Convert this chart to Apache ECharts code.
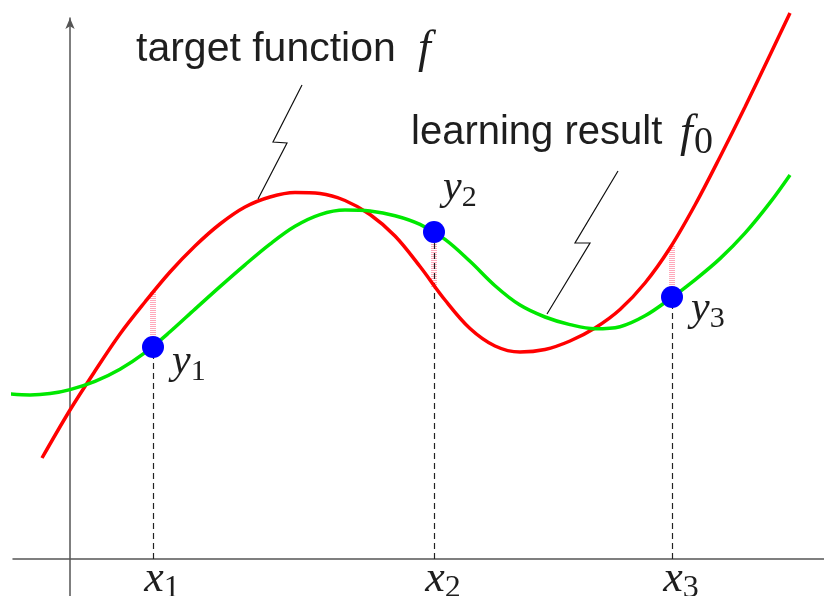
<!DOCTYPE html>
<html>
<head>
<meta charset="utf-8">
<script src="https://cdn.jsdelivr.net/npm/echarts@6/dist/echarts.min.js"></script>
<style>
  html, body { margin: 0; padding: 0; background: #fff; }
  #chart { width: 824px; height: 596px; }
</style>
</head>
<body>
<div id="chart"></div>
<script>
// Target function f (red), sampled along x
const targetX = [-0.28, 0.00, 0.25, 0.50, 0.75, 1.00, 1.25, 1.50, 1.75, 2.00, 2.25, 2.50, 2.75, 3.00, 3.25, 3.50, 3.75, 4.00, 4.25, 4.50, 4.75, 5.00, 5.25, 5.50, 5.75, 6.00, 6.25, 6.50, 6.75, 7.00, 7.20];
const targetY = [1.01, 1.49, 1.88, 2.25, 2.57, 2.87, 3.13, 3.35, 3.52, 3.62, 3.665, 3.655, 3.585, 3.445, 3.23, 2.925, 2.59, 2.305, 2.13, 2.07, 2.095, 2.18, 2.31, 2.495, 2.76, 3.11, 3.54, 4.02, 4.52, 5.04, 5.46];

// Learning result f0 (green), sampled along x
const learnedX = [-0.60, -0.40, -0.20, 0.00, 0.25, 0.50, 0.75, 1.00, 1.25, 1.50, 1.75, 2.00, 2.25, 2.50, 2.75, 3.00, 3.25, 3.50, 3.75, 4.00, 4.25, 4.50, 4.75, 5.00, 5.25, 5.50, 5.75, 6.00, 6.25, 6.50, 6.75, 7.00, 7.20];
const learnedY = [1.65, 1.64, 1.654, 1.694, 1.777, 1.898, 2.064, 2.272, 2.499, 2.724, 2.942, 3.149, 3.327, 3.444, 3.489, 3.479, 3.433, 3.346, 3.196, 2.977, 2.733, 2.539, 2.42, 2.344, 2.302, 2.323, 2.432, 2.602, 2.792, 3.004, 3.259, 3.564, 3.841];

// Training samples (x_i, y_i) and the target value above each x_i
const sampleX = [0.83, 3.64, 6.02];
const sampleY = [2.12, 3.27, 2.62];
const targetAtSample = [2.67, 2.72, 3.14];
const sampleIndex = ['1', '2', '3'];

// Callout paths (zig-zag arrows) pointing at each curve
const targetCallout = [[2.32, 4.74], [2.03, 4.17], [2.17, 4.16], [1.88, 3.60]];
const learnedCallout = [[5.48, 3.88], [5.05, 3.16], [5.20, 3.16], [4.77, 2.45]];

const zip = (xs, ys) => xs.map((x, i) => [x, ys[i]]);

const mathFont = '"Liberation Serif", "DejaVu Serif", serif';
const sansFont = '"Liberation Sans", Arial, sans-serif';
const ink = '#1e1e1e';

const subRich = (letterSize, subSize) => ({
  m: { fontFamily: mathFont, fontStyle: 'italic', fontSize: letterSize, color: ink, lineHeight: letterSize + 8 },
  s: { fontFamily: mathFont, fontSize: subSize, color: ink, lineHeight: subSize, verticalAlign: 'bottom' }
});

const chart = echarts.init(document.getElementById('chart'), null, { renderer: 'canvas' });

const option = {
  animation: false,
  backgroundColor: '#ffffff',
  grid: { left: 13, right: 0, top: 18, bottom: 0, containLabel: false, outerBoundsMode: 'none' },
  xAxis: {
    type: 'value',
    min: -0.57,
    max: 7.54,
    splitLine: { show: false },
    axisTick: { show: false },
    axisLabel: { show: false },
    axisLine: { show: true, onZero: true, lineStyle: { color: '#555', width: 1.5 } }
  },
  yAxis: {
    type: 'value',
    min: -0.37,
    max: 5.41,
    splitLine: { show: false },
    axisTick: { show: false },
    axisLabel: { show: false },
    axisLine: {
      show: true, onZero: true,
      symbol: ['none', 'arrow'], symbolSize: [7, 11],
      lineStyle: { color: '#555', width: 1.5 }
    }
  },
  graphic: [
    { type: 'text', x: 136, y: 50, z: 10,
      style: { text: 'target function', font: '41px ' + sansFont, fill: ink, verticalAlign: 'middle' } },
    { type: 'text', x: 418, y: 50, z: 10,
      style: { text: 'f', font: 'italic 46px ' + mathFont, fill: ink, verticalAlign: 'middle' } },
    { type: 'text', x: 411, y: 133, z: 10,
      style: { text: 'learning result', font: '40px ' + sansFont, fill: ink, verticalAlign: 'middle' } },
    { type: 'text', x: 680, y: 134, z: 10,
      style: { text: 'f', font: 'italic 46px ' + mathFont, fill: ink, verticalAlign: 'middle' } },
    { type: 'text', x: 694, y: 143, z: 10,
      style: { text: '0', font: '38px ' + mathFont, fill: ink, verticalAlign: 'middle' } }
  ],
  series: [
    {
      name: 'target function f',
      type: 'line',
      data: zip(targetX, targetY),
      smooth: 0.35,
      showSymbol: false,
      clip: false,
      silent: true,
      z: 3,
      lineStyle: { color: '#ff0000', width: 3.5 }
    },
    {
      name: 'learning result f0',
      type: 'line',
      data: zip(learnedX, learnedY),
      smooth: 0.35,
      showSymbol: false,
      clip: false,
      silent: true,
      z: 3,
      lineStyle: { color: '#00e800', width: 3.5 }
    },
    {
      // residual between each sample and the target
      name: 'residual',
      type: 'lines',
      coordinateSystem: 'cartesian2d',
      silent: true,
      z: 2,
      lineStyle: { color: '#ffa8ba', width: 6, type: [1, 1], opacity: 1 },
      data: sampleX.map((x, i) => ({ coords: [[x, sampleY[i]], [x, targetAtSample[i]]] }))
    },
    {
      // drop lines from each sample to the x axis, labelled x_i at the foot
      name: 'drop',
      type: 'lines',
      coordinateSystem: 'cartesian2d',
      silent: true,
      z: 2,
      lineStyle: { color: '#222', width: 1.2, type: [6, 4], opacity: 1 },
      label: {
        show: true,
        position: 'start',
        distance: -6,
        padding: [0, 0, 0, 18],
        formatter: p => '{m|x}{s|' + sampleIndex[p.dataIndex] + '}',
        rich: subRich(44, 32)
      },
      data: sampleX.map((x, i) => ({ coords: [[x, 0], [x, sampleY[i]]] }))
    },
    {
      name: 'callouts',
      type: 'lines',
      coordinateSystem: 'cartesian2d',
      polyline: true,
      silent: true,
      z: 4,
      symbol: ['none', 'arrow'],
      symbolSize: 9,
      lineStyle: { color: '#111', width: 1.2, opacity: 1 },
      data: [{ coords: targetCallout }, { coords: learnedCallout }]
    },
    {
      name: 'samples',
      type: 'scatter',
      symbol: 'circle',
      symbolSize: 22,
      z: 6,
      itemStyle: { color: '#0000ff', opacity: 1 },
      label: {
        show: true,
        position: 'right',
        distance: 6,
        formatter: p => '{m|y}{s|' + sampleIndex[p.dataIndex] + '}',
        rich: subRich(42, 30)
      },
      data: sampleX.map((x, i) => ({
        value: [x, sampleY[i]],
        label: { offset: [[2, 15], [-8, -44], [2, 12]][i] }
      }))
    }
  ]
};

chart.setOption(option);
</script>
</body>
</html>
